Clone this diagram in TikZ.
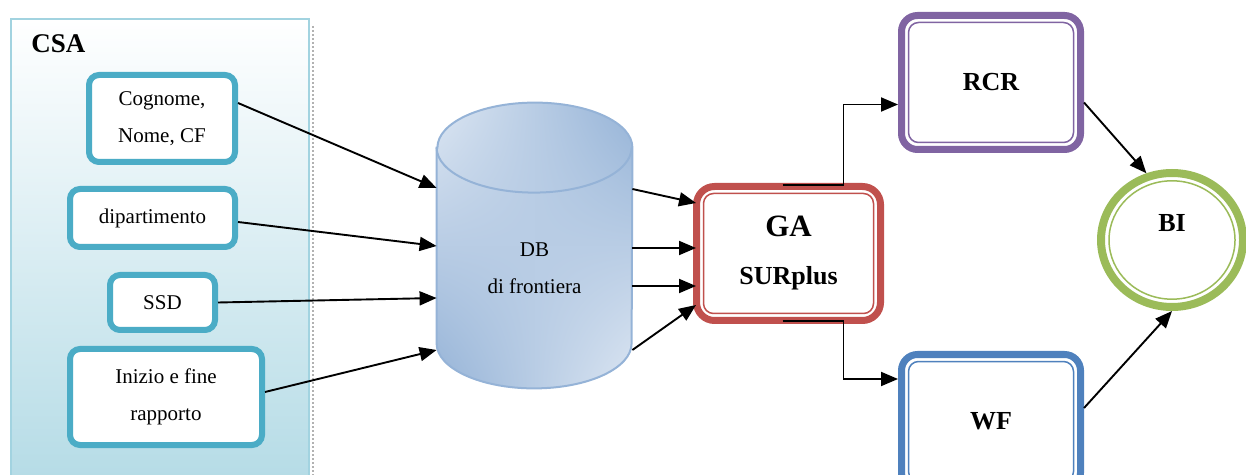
\documentclass[tikz,border=0pt]{standalone}
\usepackage{fontspec}
\setmainfont{Liberation Serif}
\usetikzlibrary{arrows.meta, shapes.geometric, shadings, backgrounds}
\definecolor{csa edge}{HTML}{A2D3E0}
\definecolor{csa area}{HTML}{B2DAE5}
\definecolor{box edge}{HTML}{4BACC6}
\definecolor{db edge}{HTML}{95B3D7}
\definecolor{db light}{HTML}{DCE6F2}
\definecolor{ga edge}{HTML}{C0504D}
\definecolor{rcr edge}{HTML}{8064A2}
\definecolor{wf edge}{HTML}{4F81BD}
\definecolor{bi edge}{HTML}{9BBB59}
\tikzset{
  panel/.style={draw=csa edge, line width=1pt, top color=white, bottom color=csa area,
    minimum width=149pt, minimum height=240.5pt, inner sep=0pt},
  srcbox/.style={draw=box edge, line width=3pt, fill=white, rounded corners=5pt,
    inner sep=0pt, align=center, font=\fontsize{10.5}{18.5}\selectfont},
  unit/.style={draw=#1, line width=3.5pt, fill=white, rounded corners=8pt, inner sep=0pt,
    minimum width=89.5pt, minimum height=67pt, align=center,
    font=\bfseries\fontsize{13}{25}\selectfont},
  innerrim/.style={draw=#1, line width=0.75pt, rounded corners=5pt, inner sep=0pt,
    minimum width=82.5pt, minimum height=60pt}
}

\begin{document}
\begin{tikzpicture}[x=0.5pt, y=-0.5pt]
	\tikzstyle{arrowline}=[draw, line width=0.95pt, -{Triangle[length=8.5pt, width=7pt]}]
	\useasboundingbox (0,0) rectangle (1246,475);
	\clip (0,0) rectangle (1246,475);

	\node [panel] (csa) at (160,259.5) {};
	\draw [black!30, densely dotted, line width=1pt] ([shift={(1.5pt,-4pt)}]csa.north east) -- ([xshift=1.5pt]csa.south east);
	\node [anchor=west, inner sep=0pt, font=\bfseries\fontsize{13.5}{16}\selectfont] (csalabel) at ([shift={(10.5pt,-13pt)}]csa.north west) {CSA};

	\node [srcbox, minimum width=73pt, minimum height=43.5pt] (cgn) at (162,118.5) {Cognome,\\Nome, CF};
	\node [srcbox, minimum width=82.5pt, minimum height=29pt] (dip) at (152.5,218) {dipartimento};
	\node [srcbox, minimum width=52.5pt, minimum height=27.5pt] (ssd) at (162.5,302.5) {SSD};
	\node [srcbox, minimum width=96pt, minimum height=48pt] (ini) at (166,397) {Inizio e fine\\rapporto};

	\node [minimum width=97.5pt, minimum height=120pt, inner sep=0pt, align=center,
	  font=\fontsize{10.5}{18.5}\selectfont] (db) at (534.5,268) {DB\\di frontiera};
	\begin{scope}[on background layer]
	  \path [draw=db edge, line width=1pt, upper left=db light, upper right=db edge,
	    lower left=db edge, lower right=db light]
	    (db.north west) -- ([yshift=22.5pt]db.south west)
	    arc [start angle=180, end angle=360, x radius=48.75pt, y radius=22.5pt]
	    -- (db.north east)
	    arc [start angle=0, end angle=180, x radius=48.75pt, y radius=22.5pt] -- cycle;
	  \draw [db edge, line width=1pt] (db.north west)
	    arc [start angle=180, end angle=360, x radius=48.75pt, y radius=22.5pt];
	\end{scope}

	\node [unit=ga edge, minimum width=92pt, rounded corners=9pt] (ga) at (788.5,253.5) {};
	\node [innerrim=ga edge, minimum width=85pt, align=center, font=\bfseries\fontsize{13}{25}\selectfont] (garim) at (ga.center) {{\fontsize{15.5}{25}\selectfont GA}\\[-1pt]SURplus};
	\node [unit=rcr edge] (rcr) at (991,82.5) {};
	\node [innerrim=rcr edge, font=\bfseries\fontsize{13}{16}\selectfont] (rcrrim) at (rcr.center) {RCR};
	\node [unit=wf edge] (wf) at (991,421.5) {};
	\node [innerrim=wf edge, font=\bfseries\fontsize{13}{16}\selectfont] (wfrim) at (wf.center) {WF};
	\node [ellipse, draw=bi edge, line width=4pt, fill=white, minimum width=71pt, minimum height=67pt, inner sep=0pt] (bi) at (1172,240) {};
	\node [ellipse, draw=bi edge, line width=0.75pt, minimum width=63pt, minimum height=59.2pt, inner sep=0pt,
	  font=\bfseries\fontsize{13}{16}\selectfont, label={[font=\bfseries\fontsize{13}{16}\selectfont, yshift=8.5pt]center:BI}] (birim) at (bi.center) {};

	\path[arrowline] ([yshift=7.75pt]cgn.east) -- ([yshift=40pt]db.west);
	\path[arrowline] ([yshift=-2pt]dip.east) -- ([yshift=11pt]db.west);
	\path[arrowline] (ssd.east) -- ([yshift=-15pt]db.west);
	\path[arrowline] ([yshift=2.5pt]ini.east) -- ([yshift=-41pt]db.west);

	\path[arrowline] ([yshift=39.5pt]db.east) -- ([shift={(1.5pt,25.25pt)}]ga.west);
	\path[arrowline] ([yshift=10pt]db.east) -- ([shift={(1.5pt,2.75pt)}]ga.west);
	\path[arrowline] ([yshift=-9pt]db.east) -- ([shift={(1.5pt,-16.25pt)}]ga.west);
	\path[arrowline] ([yshift=-41pt]db.east) -- ([shift={(1.5pt,-25.75pt)}]ga.west);

	\path[arrowline] ([shift={(-3pt,-1pt)}]ga.north) -- ++(30.5pt,0) |- ([yshift=-11pt]rcr.west);
	\path[arrowline] ([shift={(-3pt,1.5pt)}]ga.south) -- ++(30.5pt,0) |- ([yshift=21.25pt]wf.west);
	\path[arrowline] ([yshift=-10pt]rcr.east) -- (bi.111);
	\path[arrowline] ([yshift=6.75pt]wf.east) -- (bi.south);
\end{tikzpicture}
\end{document}
